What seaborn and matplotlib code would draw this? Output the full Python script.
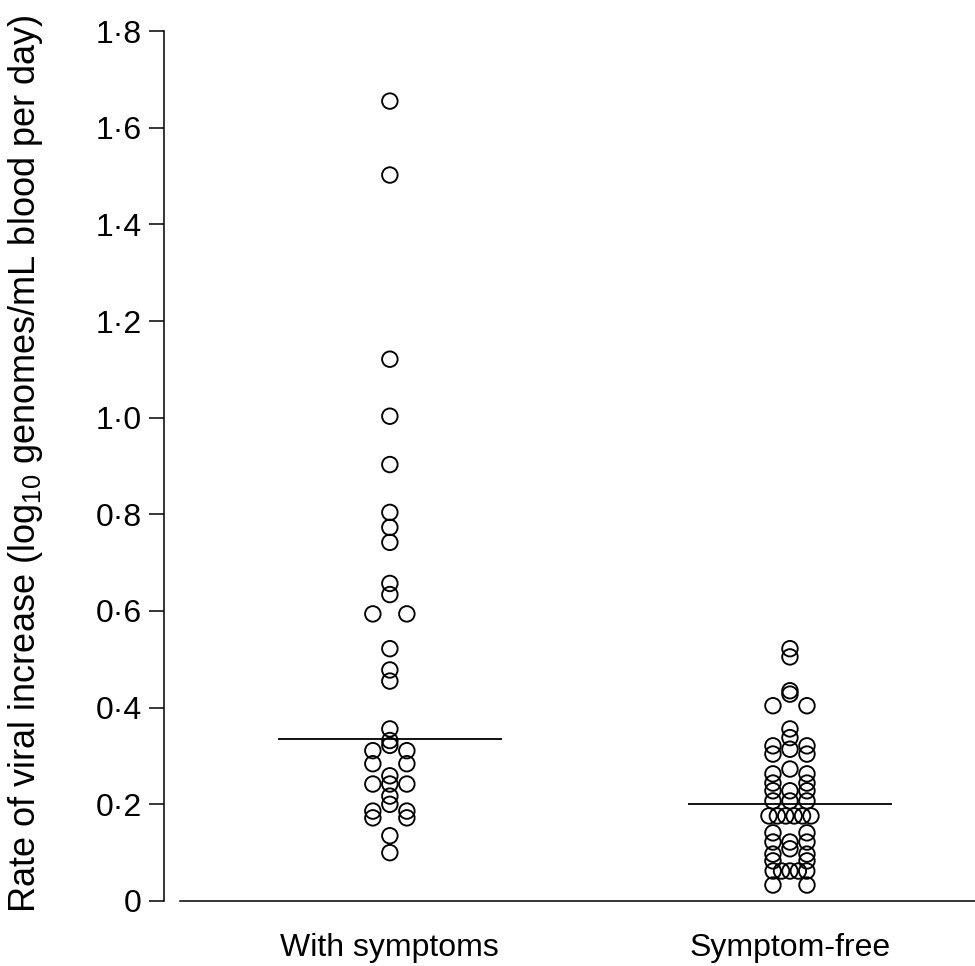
import numpy as np
import pandas as pd
import matplotlib
matplotlib.use('Agg')
import matplotlib.pyplot as plt
import seaborn as sns

# values (log10 genomes/mL blood per day)
with_symptoms = [1.655, 1.502, 1.121, 1.003, 0.903, 0.804, 0.773, 0.742, 0.657, 0.634,
                 0.594, 0.594, 0.522, 0.478, 0.455, 0.356, 0.332, 0.322, 0.311, 0.311,
                 0.284, 0.284, 0.259, 0.242, 0.242, 0.242, 0.217, 0.200, 0.186, 0.186,
                 0.172, 0.172, 0.135, 0.100]
symptom_free = [0.522, 0.505, 0.435, 0.428, 0.404, 0.404, 0.356, 0.338, 0.321, 0.321,
                0.314, 0.304, 0.304, 0.273, 0.263, 0.263, 0.244, 0.244, 0.228, 0.228,
                0.228, 0.207, 0.207, 0.207, 0.176, 0.176, 0.176, 0.176, 0.176, 0.176,
                0.141, 0.141, 0.122, 0.122, 0.122, 0.108, 0.097, 0.097, 0.083, 0.083,
                0.062, 0.062, 0.062, 0.062, 0.062, 0.033, 0.033]
groups = ['With symptoms', 'Symptom-free']
medians = [0.335, 0.200]
yticks = [0, 0.2, 0.4, 0.6, 0.8, 1.0, 1.2, 1.4, 1.6, 1.8]
ytick_labels = ['0', '0·2', '0·4', '0·6', '0·8', '1·0', '1·2', '1·4', '1·6', '1·8']


def row_offsets(vals, tol=0.005):
    # put points with (almost) equal values side by side, dot-plot style
    vals = np.asarray(vals)
    order = np.argsort(-vals)
    offs = np.zeros(len(vals))
    rows = []
    for i in order:
        if rows and vals[rows[-1][0]] - vals[i] <= tol:
            rows[-1].append(i)
        else:
            rows.append([i])
    for r in rows:
        n = len(r)
        if n == 1:
            continue
        span = 0.085 if n <= 3 else 0.021 * (n - 1)
        offs[r] = np.linspace(-span / 2, span / 2, n)
    return offs


df = pd.DataFrame({
    'y': with_symptoms + symptom_free,
    'pos': np.concatenate([0 + row_offsets(with_symptoms), 1 + row_offsets(symptom_free)]),
})

sns.set_style('ticks')
plt.rcParams['font.family'] = ['Liberation Sans', 'DejaVu Sans']
plt.rcParams['mathtext.fontset'] = 'custom'
plt.rcParams['mathtext.rm'] = 'Liberation Sans'
for k in ['text.color', 'axes.labelcolor', 'xtick.color', 'ytick.color', 'axes.edgecolor']:
    plt.rcParams[k] = 'black'

fig = plt.figure(figsize=(9.75, 9.66), dpi=100)
ax = fig.add_axes([0.168, 0.0673, 0.832, 0.9006])

sns.scatterplot(data=df, x='pos', y='y', ax=ax, s=125, color='white',
                edgecolor='black', linewidth=1.35, zorder=3, legend=False)
ax.collections[0].set_facecolor('none')

# median lines
half = [0.28, 0.255]
for i, m in enumerate(medians):
    ax.hlines(m, i - half[i], i + half[i], color='black', linewidth=1.3, zorder=2)

ax.set_xlim(-0.565, 1.4625)
ax.set_ylim(0, 1.8)
ax.set_xticks([0, 1])
ax.set_xticklabels(groups, fontsize=23)
ax.set_yticks(yticks)
ax.set_yticklabels(ytick_labels, fontsize=23)
ax.tick_params(axis='x', length=0, pad=23)
ax.tick_params(axis='y', length=11, width=1.1, pad=5)
ax.set_xlabel('')
ax.set_ylabel(r'Rate of viral increase (log$_{\mathrm{10}}$ genomes/mL blood per day)', fontsize=26)
ax.yaxis.set_label_coords(-0.146, 0.503)

for s in ['top', 'right']:
    ax.spines[s].set_visible(False)
ax.spines['left'].set_linewidth(1.1)
ax.spines['bottom'].set_linewidth(1.1)
ax.spines['bottom'].set_bounds(-0.525, 1.4625)

fig.savefig('out.png', dpi=100, facecolor='white')
